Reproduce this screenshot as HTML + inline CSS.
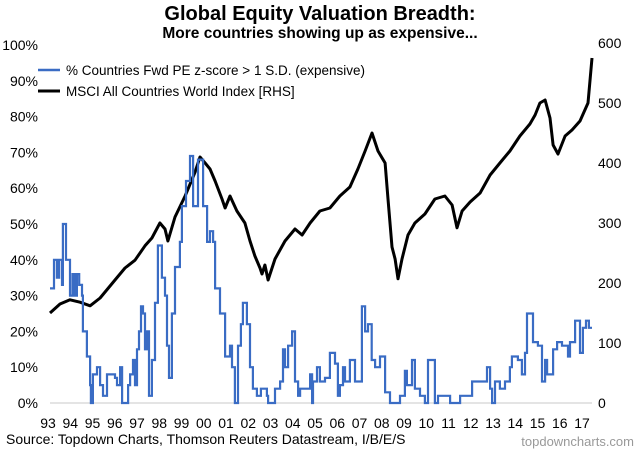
<!DOCTYPE html>
<html><head><meta charset="utf-8"><style>
body{margin:0;background:#fff;width:640px;height:452px;overflow:hidden;font-family:"Liberation Sans",Arial,sans-serif}
svg text{font-family:"Liberation Sans",Arial,sans-serif}
</style></head><body>
<svg id="c" width="640" height="452">
<text x="320" y="20" text-anchor="middle" font-size="20" font-weight="bold">Global Equity Valuation Breadth:</text>
<text x="320" y="38" text-anchor="middle" font-size="15.5" font-weight="bold">More countries showing up as expensive...</text>
<line x1="38" y1="70" x2="60" y2="70" stroke="#3a6cc4" stroke-width="2.5"/>
<text x="66" y="75" font-size="13.5">% Countries Fwd PE z-score &gt; 1 S.D. (expensive)</text>
<line x1="38" y1="91" x2="60" y2="91" stroke="#000" stroke-width="3"/>
<text x="66" y="96" font-size="13.5">MSCI All Countries World Index [RHS]</text>
<line x1="50" y1="403" x2="592" y2="403" stroke="#c8c8c8" stroke-width="1"/>
<g id="axes"></g>
<g id="series"></g>
<text x="6" y="444" font-size="14">Source: Topdown Charts, Thomson Reuters Datastream, I/B/E/S</text>
<text x="634" y="446" text-anchor="end" font-size="13" fill="#999">topdowncharts.com</text>
</svg>
<script>
const leftTicks=[0,10,20,30,40,50,60,70,80,90,100];
const rightTicks=[0,100,200,300,400,500,600];
const yearLabels=["93","94","95","96","97","98","99","00","01","02","03","04","05","06","07","08","09","10","11","12","13","14","15","16","17"];
const breadthDates=[1993.09,1993.27,1993.4,1993.5,1993.63,1993.67,1993.81,1993.99,1994.1,1994.2,1994.3,1994.4,1994.53,1994.57,1994.75,1994.89,1994.93,1995.02,1995.2,1995.34,1995.47,1995.65,1996.01,1996.1,1996.24,1996.33,1996.6,1996.69,1996.82,1996.91,1997.0,1997.09,1997.18,1997.27,1997.36,1997.45,1997.54,1997.67,1997.81,1997.94,1998.12,1998.26,1998.35,1998.44,1998.57,1998.71,1998.93,1999.02,1999.2,1999.38,1999.52,1999.74,1999.97,2000.15,2000.28,2000.42,2000.51,2000.73,2000.96,2001.18,2001.27,2001.4,2001.54,2001.67,2001.76,2001.94,2002.08,2002.21,2002.39,2002.57,2002.84,2002.89,2003.2,2003.43,2003.56,2003.65,2003.79,2003.97,2004.1,2004.24,2004.33,2004.78,2004.87,2004.91,2005.09,2005.22,2005.45,2005.67,2005.9,2006.03,2006.12,2006.26,2006.35,2006.57,2006.8,2007.11,2007.25,2007.38,2007.55,2007.7,2007.92,2008.15,2008.37,2008.82,2009.04,2009.13,2009.36,2009.49,2009.72,2009.94,2010.08,2010.39,2010.53,2011.07,2011.52,2012.06,2012.73,2012.87,2012.96,2013.09,2013.31,2013.54,2013.76,2013.85,2014.12,2014.3,2014.44,2014.53,2014.8,2015.02,2015.2,2015.34,2015.43,2015.7,2015.88,2016.1,2016.37,2016.46,2016.69,2016.91,2017.04,2017.18,2017.31,2017.45];
const breadthValues=[32,40,35,40,33,50,40,30,36,30,36,33,30,20,13,5,0,8,10,5,2,8,7,5,10,0,5,8,12,5,15,20,27,25,15,20,2,12,28,44,35,30,16,7,25,38,45,55,62,69,55,68,55,45,48,45,32,25,13,16,10,0,16,22,28,22,10,4,2,4,2,0,4,6,15,10,16,20,6,2,4,8,0,6,10,6,7,14,11,2,5,10,6,12,6,27,20,22,12,10,13,3,0,2,9,5,12,4,2,0,12,0,2,0,2,6,10,4,0,6,4,6,10,13,12,8,14,25,17,16,6,12,8,15,17,16,13,17,23,14,21,23,21];
const msciDates=[1993.09,1993.54,1993.99,1994.44,1994.89,1995.34,1996.01,1996.46,1996.91,1997.36,1997.67,1998.03,1998.26,1998.39,1998.71,1999.16,1999.61,1999.83,2000.06,2000.28,2000.51,2000.82,2000.96,2001.18,2001.49,2001.85,2002.08,2002.3,2002.53,2002.62,2002.75,2002.89,2003.2,2003.65,2004.1,2004.42,2004.78,2005.22,2005.67,2006.12,2006.57,2006.93,2007.25,2007.56,2007.83,2008.15,2008.28,2008.46,2008.6,2008.73,2008.91,2009.18,2009.49,2009.94,2010.39,2010.84,2011.16,2011.38,2011.61,2011.97,2012.42,2012.87,2013.31,2013.76,2014.21,2014.66,2014.89,2015.11,2015.34,2015.56,2015.7,2015.92,2016.24,2016.55,2016.91,2017.27,2017.45];
const msciValues=[150,165,172,168,162,175,205,225,238,262,275,300,290,270,310,345,385,410,400,390,370,340,325,345,320,300,270,245,225,215,230,205,240,270,290,280,300,320,325,345,360,390,420,450,420,400,340,260,240,207,240,280,300,315,340,345,330,292,320,335,350,380,400,420,445,465,480,500,505,475,430,415,445,455,470,500,575];
const xS=d=>48+(d-1993)*22.25;
const yL=v=>403-v*3.58;
const yR=v=>403-v*0.6;
const NS="http://www.w3.org/2000/svg";
const ax=document.getElementById('axes'),sr=document.getElementById('series');
function t(x,y,s,a){const e=document.createElementNS(NS,'text');e.setAttribute('x',x);e.setAttribute('y',y);e.setAttribute('font-size','14');e.setAttribute('text-anchor',a);e.textContent=s;ax.appendChild(e);return e;}
leftTicks.forEach(v=>{const e=t(38,yL(v)+5,v+'%','end');

});
rightTicks.forEach(v=>{const e=t(598,yR(v)+5,String(v),'start');

});
yearLabels.forEach((s,i)=>{const e=t(xS(1993+i),428,s,'middle');

});
let d='';breadthDates.forEach((dt,i)=>{const x=xS(dt),y=yL(breadthValues[i]);d+=i?`H${x.toFixed(1)}V${y.toFixed(1)}`:`M${x.toFixed(1)},${y.toFixed(1)}`;});
d+=`H${xS(2017.5).toFixed(1)}`;
const msci=document.createElementNS(NS,'path');
msci.setAttribute('d',msciDates.map((dt,i)=>(i?'L':'M')+xS(dt).toFixed(1)+','+yR(msciValues[i]).toFixed(1)).join(''));
msci.setAttribute('fill','none');msci.setAttribute('stroke','#000');msci.setAttribute('stroke-width','3');msci.setAttribute('stroke-linejoin','round');


const br=document.createElementNS(NS,'path');
br.setAttribute('d',d);br.setAttribute('fill','none');br.setAttribute('stroke','#3a6cc4');br.setAttribute('stroke-width','2.2');


sr.appendChild(msci);sr.appendChild(br);
</script>
</body></html>
